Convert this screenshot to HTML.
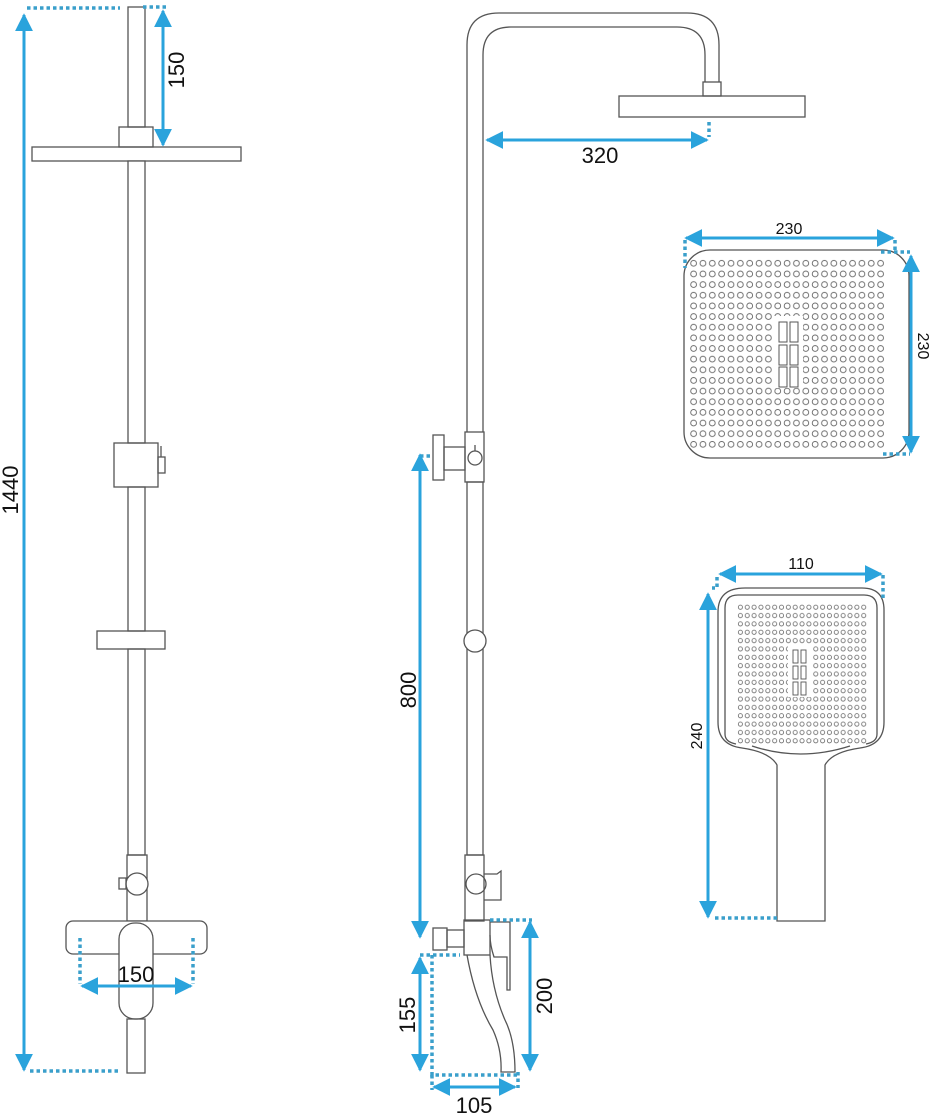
<!DOCTYPE html>
<html><head><meta charset="utf-8"><style>
html,body{margin:0;padding:0;background:#fff}
svg{display:block}
text{font-family:"Liberation Sans",sans-serif;fill:#111}
</style></head><body>
<svg width="936" height="1118" viewBox="0 0 936 1118" xmlns="http://www.w3.org/2000/svg">
<defs>
<marker id="a" viewBox="0 0 10 10" refX="9" refY="5" markerWidth="6" markerHeight="6" orient="auto-start-reverse"><path d="M0,0L10,5L0,10z" fill="#2aa3dc"/></marker>
<pattern id="big" x="689" y="258" width="9.35" height="10.65" patternUnits="userSpaceOnUse"><circle cx="4.6" cy="5.3" r="2.9" fill="none" stroke="#666" stroke-width="0.9"/></pattern>
<pattern id="sm" x="737" y="603" width="6.85" height="8.35" patternUnits="userSpaceOnUse"><circle cx="3.4" cy="4.2" r="2.1" fill="none" stroke="#666" stroke-width="0.8"/></pattern>
</defs>
<g fill="none" stroke="#555" stroke-width="1.3">
<rect x="128" y="7" width="17" height="120"/>
<rect x="119" y="127" width="34" height="20"/>
<rect x="32" y="147" width="209" height="14"/>
<rect x="128" y="161" width="17" height="282" fill="#fff"/>
<rect x="114" y="443" width="44" height="44"/>
<rect x="158" y="457" width="7" height="16"/><line x1="161" y1="446" x2="161" y2="457"/>
<rect x="128" y="487" width="17" height="144"/>
<rect x="97" y="631" width="68" height="18"/>
<rect x="128" y="649" width="17" height="206"/>
<rect x="127" y="855" width="20" height="66"/>
<circle cx="137" cy="884" r="11" fill="#fff"/>
<rect x="119" y="878" width="7" height="11"/>
<rect x="66" y="921" width="141" height="33" rx="7" fill="#fff"/>
<rect x="119" y="923" width="34" height="96" rx="16" fill="#fff"/>
<rect x="127" y="1019" width="18" height="54"/>
<path d="M467,432 V45 Q467,13 499,13 H687 Q719,13 719,45 V82"/>
<path d="M483,432 V55 Q483,27 511,27 H677 Q705,27 705,55 V82"/>
<rect x="703" y="82" width="18" height="14"/>
<rect x="619" y="96" width="186" height="21"/>
<rect x="465" y="432" width="19" height="50"/>
<circle cx="475" cy="458" r="7"/><line x1="475" y1="445" x2="475" y2="451"/>
<rect x="444" y="447" width="21" height="23"/>
<rect x="433" y="435" width="11" height="45"/>
<rect x="467" y="482" width="16" height="373"/>
<circle cx="475" cy="641" r="11" fill="#fff"/>
<rect x="465" y="855" width="19" height="66"/>
<circle cx="476" cy="884" r="10"/>
<path d="M484,874 H497 L501,871 V900 H484"/>
<rect x="464" y="920" width="26" height="35"/>
<rect x="447" y="930" width="17" height="17"/>
<rect x="433" y="928" width="14" height="22"/>
<path d="M490,922 H510 V990 H507 V957 H494 Q490,945 490,935"/>
<path d="M467,955 Q475,1000 493,1030 Q502,1050 501,1072 H515 Q515,1040 505,1020 Q492,990 490,955"/>
<rect x="684" y="250" width="225" height="208" rx="26"/>
<path d="M745,588 H862 Q884,588 884,610 V722 Q884,745 860,748 Q832,752 825,765 V921 H777 V765 Q770,752 742,748 Q718,745 718,722 V612 Q718,588 745,588 Z"/>
<path d="M738,595 H864 Q877,595 877,608 V734 Q877,742 866,744"/>
<path d="M738,595 Q725,595 725,608 V734 Q725,742 736,744"/>
<path d="M752,746 Q800,762 850,746"/>
</g>
<rect x="689" y="258" width="197" height="192" fill="url(#big)"/>
<rect x="772" y="316" width="31" height="72" fill="#fff"/>
<g fill="none" stroke="#555" stroke-width="1">
<rect x="779" y="322" width="8" height="20"/><rect x="790" y="322" width="8" height="20"/>
<rect x="779" y="345" width="8" height="20"/><rect x="790" y="345" width="8" height="20"/>
<rect x="779" y="367" width="8" height="20"/><rect x="790" y="367" width="8" height="20"/>
</g>
<rect x="737" y="603" width="130" height="142" fill="url(#sm)"/>
<rect x="788" y="645" width="24" height="52" fill="#fff"/>
<g fill="none" stroke="#555" stroke-width="0.9">
<rect x="793" y="650" width="5" height="13"/><rect x="801" y="650" width="5" height="13"/>
<rect x="793" y="666" width="5" height="13"/><rect x="801" y="666" width="5" height="13"/>
<rect x="793" y="682" width="5" height="13"/><rect x="801" y="682" width="5" height="13"/>
</g>
<g fill="none" stroke="#3a9fcb" stroke-width="3.5" stroke-dasharray="3.5,3">
<path d="M27,8 H120"/><path d="M143,7 H166"/><path d="M30,1071 H118"/>
<path d="M80,938 V984"/><path d="M193,938 V984"/>
<path d="M709,122 V137"/>
<path d="M420,456 H432"/>
<path d="M490,920 H532"/><path d="M432,955 V1075 H518"/><path d="M420,955 H460"/>
<path d="M432,1075 V1090"/><path d="M518,1072 V1088"/>
<path d="M685,240 V268"/><path d="M895,240 V252 M881,252 H910"/><path d="M883,454 H910"/>
<path d="M717,577 V588 H712"/><path d="M883,575 V600"/>
<path d="M715,918 H777"/>
</g>
<g stroke="#2aa3dc" stroke-width="3" marker-start="url(#a)" marker-end="url(#a)">
<line x1="24" y1="15" x2="24" y2="1070"/>
<line x1="163" y1="11" x2="163" y2="145"/>
<line x1="82" y1="986" x2="191" y2="986"/>
<line x1="487" y1="140" x2="707" y2="140"/>
<line x1="420" y1="455" x2="420" y2="937"/>
<line x1="420" y1="958" x2="420" y2="1070"/>
<line x1="530" y1="922" x2="530" y2="1070"/>
<line x1="434" y1="1087" x2="515" y2="1087"/>
<line x1="686" y1="238" x2="893" y2="238"/>
<line x1="911" y1="256" x2="911" y2="452"/>
<line x1="720" y1="574" x2="881" y2="574"/>
<line x1="708" y1="594" x2="708" y2="917"/>
</g>
<text font-size="22" transform="translate(18,490) rotate(-90)" text-anchor="middle">1440</text>
<text font-size="22" transform="translate(184,70) rotate(-90)" text-anchor="middle">150</text>
<text x="136" y="982" font-size="22" text-anchor="middle">150</text>
<text x="600" y="163" font-size="22" text-anchor="middle">320</text>
<text font-size="22" transform="translate(416,690) rotate(-90)" text-anchor="middle">800</text>
<text font-size="22" transform="translate(415,1015) rotate(-90)" text-anchor="middle">155</text>
<text font-size="22" transform="translate(552,996) rotate(-90)" text-anchor="middle">200</text>
<text x="474" y="1113" font-size="22" text-anchor="middle">105</text>
<text x="789" y="234" font-size="16" text-anchor="middle">230</text>
<text font-size="16" transform="translate(918,346) rotate(90)" text-anchor="middle">230</text>
<text x="801" y="569" font-size="16" text-anchor="middle">110</text>
<text font-size="16" transform="translate(702,736) rotate(-90)" text-anchor="middle">240</text>
</svg>
</body></html>
